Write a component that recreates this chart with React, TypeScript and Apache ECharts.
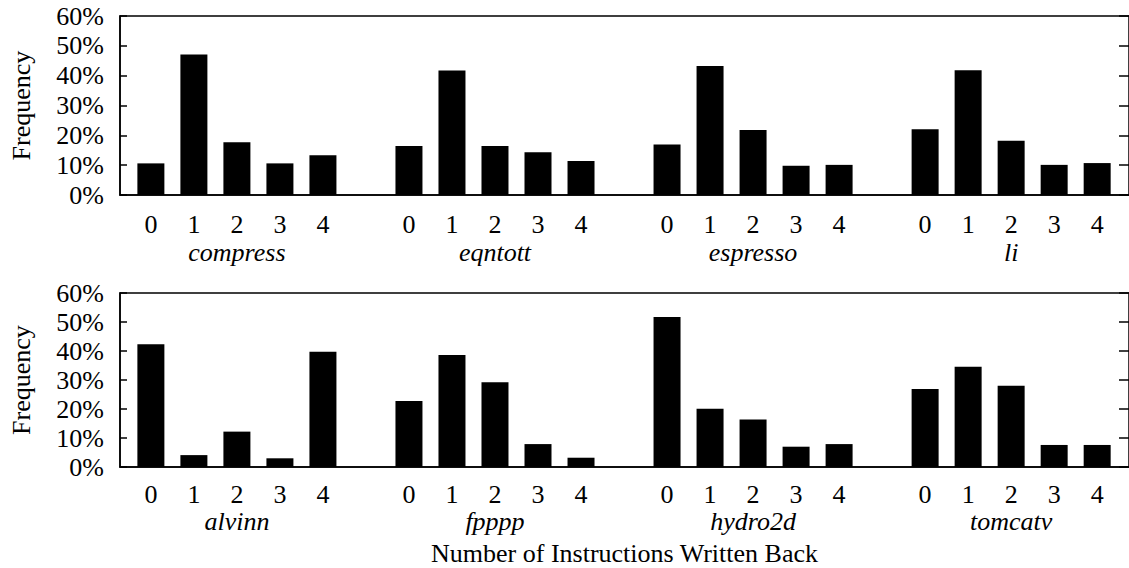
import React, { useEffect, useRef } from "react";
import * as echarts from "echarts";

const slotTicks = ["0", "1", "2", "3", "4"];
const groupsTop = ["compress", "eqntott", "espresso", "li"];
const groupsBottom = ["alvinn", "fpppp", "hydro2d", "tomcatv"];
const valuesTop = [
  [10.6, 47.1, 17.7, 10.6, 13.3],
  [16.4, 41.7, 16.4, 14.3, 11.4],
  [16.9, 43.2, 21.8, 9.8, 10.1],
  [22.0, 41.8, 18.2, 10.1, 10.7],
];
const valuesBottom = [
  [42.3, 4.1, 12.2, 3.0, 39.7],
  [22.8, 38.6, 29.2, 7.9, 3.2],
  [51.7, 20.1, 16.4, 7.0, 7.9],
  [26.9, 34.6, 28.0, 7.6, 7.6],
];
const yTicks = [0, 10, 20, 30, 40, 50, 60];
const yTitle = "Frequency";
const xTitle = "Number of Instructions Written Back";

const FONT = "Liberation Serif";
const FS = 26;
const GROUP_STRIDE = 6;
const X_MIN = -0.718;
const X_MAX = 22.74;

function tickPositions() {
  const out: number[] = [];
  for (let g = 0; g < 4; g++) for (let i = 0; i < slotTicks.length; i++) out.push(g * GROUP_STRIDE + i);
  return out;
}
function groupPositions() {
  return [0, 1, 2, 3].map((g) => g * GROUP_STRIDE + 2);
}
function seriesData(vals: number[][]) {
  const d: number[][] = [];
  vals.forEach((row, g) => row.forEach((v, i) => d.push([g * GROUP_STRIDE + i, v])));
  return d;
}

export default function App() {
  const ref = useRef<HTMLDivElement>(null);
  useEffect(() => {
    if (!ref.current) return;
    const chart = echarts.init(ref.current, null, { renderer: "svg" });
    const grids = [
      { left: 119, top: 16, width: 1013, height: 179 },
      { left: 119, top: 293, width: 1013, height: 174 },
    ];
    const groupsList = [groupsTop, groupsBottom];
    const xAxes: any[] = [];
    const yAxes: any[] = [];
    const series: any[] = [];
    grids.forEach((_, gi) => {
      const groups = groupsList[gi];
      xAxes.push({
        type: "value",
        gridIndex: gi,
        min: X_MIN,
        max: X_MAX,
        position: "bottom",
        axisLine: { show: true, onZero: false, lineStyle: { color: "#000", width: 1.5 } },
        axisTick: { show: false },
        splitLine: { show: false },
        axisLabel: {
          customValues: tickPositions(),
          formatter: (v: number) => slotTicks[Math.round(v) % GROUP_STRIDE] ?? "",
          color: "#000",
          fontFamily: FONT,
          fontSize: FS,
          margin: gi === 0 ? 16 : 14,
        },
      });
      xAxes.push({
        type: "value",
        gridIndex: gi,
        min: X_MIN,
        max: X_MAX,
        position: "bottom",
        axisLine: { show: false, onZero: false },
        axisTick: { show: false },
        splitLine: { show: false },
        axisLabel: {
          customValues: groupPositions(),
          formatter: (v: number) => groups[Math.floor(v / GROUP_STRIDE)] ?? "",
          color: "#000",
          fontFamily: FONT,
          fontStyle: "italic",
          fontSize: FS,
          margin: gi === 0 ? 44 : 41,
        },
        name: gi === 1 ? xTitle : "",
        nameLocation: "middle",
        nameGap: 73,
        nameTextStyle: { color: "#000", fontFamily: FONT, fontSize: FS },
      });
      yAxes.push({
        type: "value",
        gridIndex: gi,
        min: yTicks[0],
        max: yTicks[yTicks.length - 1],
        interval: 10,
        position: "left",
        axisLine: { show: true, onZero: false, lineStyle: { color: "#000", width: 1.5 } },
        axisTick: { show: true, inside: true, length: 7, lineStyle: { color: "#000", width: 1.5 } },
        splitLine: { show: false },
        axisLabel: {
          formatter: "{value}%",
          color: "#000",
          fontFamily: FONT,
          fontSize: FS,
          margin: 16,
        },
        name: yTitle,
        nameLocation: "middle",
        nameRotate: 90,
        nameGap: 86,
        nameTextStyle: { color: "#000", fontFamily: FONT, fontSize: FS },
      });
      yAxes.push({
        type: "value",
        gridIndex: gi,
        min: yTicks[0],
        max: yTicks[yTicks.length - 1],
        interval: 10,
        position: "right",
        axisLine: { show: false, onZero: false },
        axisTick: { show: true, inside: true, length: 10, lineStyle: { color: "#000", width: 1.5 } },
        splitLine: { show: false },
        axisLabel: { show: false },
      });
      series.push({
        type: "bar",
        xAxisIndex: gi * 2,
        yAxisIndex: gi * 2,
        barWidth: 27,
        itemStyle: { color: "#000" },
        data: seriesData(gi === 0 ? valuesTop : valuesBottom),
      });
    });
    chart.setOption({
      animation: false,
      backgroundColor: "#fff",
      textStyle: { fontFamily: FONT, color: "#000" },
      grid: grids.map((g) => ({ ...g, show: true, borderColor: "#000", borderWidth: 1.5, backgroundColor: "transparent" })),
      xAxis: xAxes,
      yAxis: yAxes,
      series,
    });
    return () => chart.dispose();
  }, []);
  return (
    <div
      ref={ref}
      style={{ position: "fixed", left: 0, top: 0, width: 1129, height: 568, background: "#fff", fontFamily: FONT }}
    />
  );
}
